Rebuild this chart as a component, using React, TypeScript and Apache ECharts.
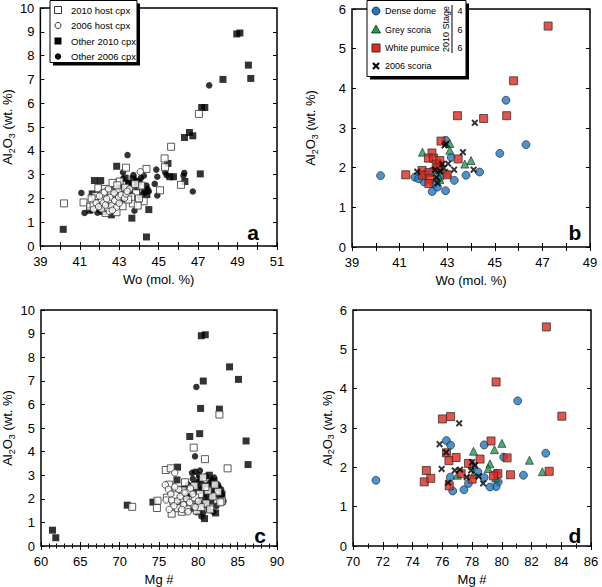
import React, { useEffect, useRef } from "react";
import * as echarts from "echarts";

// ---------- Data ----------
// Panel a: Wo (mol. %) vs Al2O3 (wt. %)
const aHost2010 = [[40.2,1.79],[47.04,5.55],[45.63,4.17],[45.3,3.68],[45.32,3.31],[44.38,3.24],[46.13,2.57],[45.07,2.34],[43.34,3.29],[43.02,2.71],[42.66,2.65],[41.19,1.83],[44.24,1.88],[43.69,1.79],[43.17,1.67],[42.86,1.42],[42.31,1.39],[41.94,2.43],[42.27,2.4],[41.53,1.65],[41.97,1.9],[44.1,2.54],[43.85,2.22],[42.97,2.29],[42.61,2.12],[43.6,2.05],[42.1,1.98],[43.94,1.7],[42.5,2.3],[43.3,2.45],[41.8,2.1],[42.8,1.85],[43.45,1.95],[41.7,1.75],[42.4,1.6],[43.8,2.6],[42.9,2.55],[44.0,2.0],[41.6,2.0],[42.2,2.2],[43.1,2.1]];
const aHost2006 = [[44.07,3.12],[42.19,1.81],[42.41,1.59],[42.61,1.7],[42.1,1.56],[42.77,1.91],[42.97,2.05],[42.52,2.05],[43.1,2.15],[42.36,1.98],[42.74,2.23],[43.27,2.01],[41.83,1.81],[42.24,2.26],[43.35,2.19],[42.86,1.63],[43.52,2.4],[41.7,1.55],[42.0,2.1],[42.5,1.45],[43.0,1.8],[42.3,1.72],[42.65,1.5],[41.95,1.65],[43.4,2.3],[42.45,2.4]];
const aOther2010 = [[40.16,0.7],[48.96,8.91],[49.12,8.95],[49.55,7.6],[49.67,7.04],[48.26,7.0],[47.18,5.82],[47.34,5.82],[46.31,4.56],[46.56,4.77],[46.73,4.63],[47.11,3.03],[46.33,2.71],[45.47,3.47],[45.56,2.91],[45.75,2.91],[44.38,0.38],[44.5,1.53],[43.64,1.17],[42.87,3.35],[41.74,2.75],[42.06,2.75],[41.63,2.19],[42.6,1.31],[44.4,2.16],[43.9,2.45],[43.1,2.44],[41.9,1.73],[43.3,2.85],[43.7,2.82],[44.0,2.7],[42.4,2.35],[43.5,2.6],[41.5,1.5],[42.9,1.9],[43.2,2.0],[42.2,1.45],[44.3,2.3]];
const aOther2006 = [[47.56,6.75],[46.73,2.29],[46.3,3.07],[46.26,2.96],[44.88,3.21],[44.93,2.91],[44.93,2.12],[44.8,2.61],[45.33,3.1],[45.4,2.98],[43.42,3.82],[41.08,2.23],[41.24,1.39],[43.77,1.48],[43.19,3.1],[43.19,2.82],[43.72,2.98],[44.1,2.86],[44.38,2.54],[44.43,2.4],[42.44,1.7],[42.94,1.91],[41.58,1.53],[41.9,1.4],[43.9,2.65],[44.2,2.2],[43.55,2.5],[42.7,2.15],[43.0,2.55],[43.6,2.25],[44.05,2.05],[43.85,2.75],[42.2,1.6],[41.75,1.85],[43.3,2.3],[42.6,2.35],[44.25,2.95],[43.45,2.65],[44.5,2.3],[42.0,1.5]];

// Panel c: Mg # vs Al2O3 (wt. %)
const cHost2010 = [[71.59,1.66],[82.68,5.57],[79.41,4.17],[80.84,3.68],[83.72,3.29],[75.86,3.22],[76.49,3.29],[74.81,1.92],[74.73,1.61],[76.61,1.37],[77.2,2.3],[76.3,2.6],[77.8,2.0],[78.5,1.75],[79.5,2.55],[80.2,2.2],[81.0,1.8],[82.5,2.3],[83.0,1.9],[78.9,2.35],[79.8,1.5],[77.4,1.6],[80.6,2.9],[81.8,2.1],[79.2,1.95],[78.0,2.35],[76.8,1.9],[77.9,1.45],[80.3,1.65],[82.1,2.6],[79.0,1.75],[78.3,2.7],[81.2,2.35],[76.0,2.05],[80.9,2.5],[82.8,1.85],[78.6,1.55],[77.1,2.15],[79.6,2.05],[81.5,1.55]];
const cHost2006 = [[77.0,3.1],[75.8,2.59],[76.2,2.4],[75.9,1.95],[76.5,2.2],[77.3,1.9],[77.7,2.1],[78.1,1.75],[78.5,2.0],[76.9,1.7],[77.5,2.4],[78.9,1.85],[79.3,2.2],[76.3,1.55],[77.9,1.55],[78.3,2.25],[79.6,1.65],[77.0,2.5],[76.6,1.95],[78.7,1.45],[80.0,1.9],[79.0,2.45]];
const cOther2010 = [[61.46,0.67],[61.88,0.35],[80.38,8.91],[80.88,8.95],[83.97,7.59],[85.1,7.06],[80.63,6.99],[80.29,5.83],[82.68,5.8],[78.91,4.64],[80.17,4.76],[86.07,4.45],[86.32,3.45],[77.36,3.34],[77.28,2.8],[70.96,1.73],[74.23,1.86],[80.79,1.16],[81.4,3.0],[80.5,2.35],[81.9,2.2],[79.6,2.6],[82.2,1.4],[78.4,2.1],[80.0,1.45],[81.2,2.55],[82.5,2.45],[79.8,1.9],[80.9,1.75],[83.0,2.2],[78.0,2.4],[81.6,1.9],[80.2,2.85],[82.0,2.75],[79.2,1.6],[77.5,1.9],[81.0,2.2]];
const cOther2006 = [[79.75,6.74],[79.58,3.8],[79.2,3.1],[79.6,3.15],[80.1,3.0],[79.9,2.7],[80.5,2.6],[81.0,2.95],[81.5,2.7],[82.0,2.9],[82.5,2.6],[83.0,2.2],[81.8,2.4],[80.8,2.05],[80.3,1.8],[81.3,1.55],[82.3,1.7],[79.5,2.3],[80.0,2.45],[78.5,1.5],[80.6,1.4],[81.9,1.45],[82.7,2.1],[79.3,2.85],[80.9,2.4],[81.6,2.15],[83.2,1.9],[78.9,2.1],[80.4,1.25],[82.1,2.5],[79.9,1.6],[81.1,1.9],[80.2,3.2],[78.7,2.6],[81.7,2.8],[82.9,2.4]];

// Panel b: Wo (mol. %) vs Al2O3 (wt. %)
const bDense = [[40.2,1.8],[45.47,3.7],[46.31,2.58],[45.21,2.36],[42.94,2.69],[43.17,2.26],[43.3,1.68],[43.79,1.81],[44.36,1.89],[42.93,1.42],[42.37,1.4],[42.43,1.6],[42.59,1.51],[42.03,1.64],[42.07,1.84],[41.64,1.76],[42.37,1.91],[42.7,1.75],[42.55,1.95],[41.8,1.72]];
const bGrey = [[41.96,2.39],[43.11,2.61],[43.11,2.44],[43.74,2.09],[44.0,2.18],[43.01,1.87],[42.69,2.14],[42.69,1.7],[42.61,1.82],[42.75,1.95]];
const bWhite = [[47.24,5.57],[45.79,4.19],[43.43,3.31],[44.53,3.24],[45.5,3.31],[41.26,1.82],[42.74,2.67],[42.36,2.37],[42.21,2.24],[42.43,2.24],[43.46,2.22],[42.54,2.09],[42.69,2.18],[41.94,1.93],[41.97,1.81],[42.24,1.88],[42.26,1.72],[42.23,1.6],[43.0,1.82],[42.6,2.0]];
const bScoria = [[44.16,3.13],[43.66,2.39],[44.11,1.95],[43.29,1.95],[43.04,2.1],[42.89,2.56],[41.74,1.9],[42.6,1.61],[42.86,1.99],[42.71,1.91],[42.49,1.95],[42.79,2.09],[42.95,2.6],[42.55,1.75]];

// Panel d: Mg # vs Al2O3 (wt. %)
const dDense = [[71.54,1.67],[81.07,3.69],[82.96,2.36],[76.28,2.68],[76.56,2.56],[78.82,2.57],[80.13,2.26],[81.46,1.8],[79.62,1.85],[79.76,1.63],[79.62,1.51],[79.21,1.5],[78.4,1.88],[78.82,1.74],[77.46,1.43],[76.7,1.4],[77.76,1.59],[76.54,1.75],[78.06,2.03]];
const dGrey = [[78.1,2.41],[80.01,2.61],[79.51,2.45],[81.86,2.18],[82.73,1.89],[79.21,2.09],[79.09,1.97],[78.1,1.82],[77.02,1.8],[79.6,1.73]];
const dWhite = [[83.0,5.57],[79.62,4.17],[84.04,3.3],[76.01,3.23],[76.56,3.29],[76.28,2.37],[76.45,2.17],[76.93,2.25],[79.28,2.67],[77.76,2.1],[78.54,2.21],[80.36,2.24],[80.59,1.81],[83.19,1.9],[74.93,1.92],[74.79,1.63],[75.23,1.72],[76.47,1.53],[77.27,1.84],[79.74,1.84],[78.01,1.7],[79.45,1.78]];
const dScoria = [[77.14,3.12],[75.82,2.59],[76.26,2.38],[75.96,1.96],[76.84,1.92],[77.2,1.94],[77.94,1.92],[78.01,2.13],[77.64,1.75],[78.75,1.59],[76.4,1.61],[78.45,1.77],[78.2,2.05]];

const legendA = ["2010 host cpx", "2006 host cpx", "Other 2010 cpx", "Other 2006 cpx"];
const legendB = ["Dense dome", "Grey scoria", "White pumice", "2006 scoria"];
const stageLabels = ["4", "6", "6"];
const panelLetters = ["a", "b", "c", "d"];

const FONT = "Liberation Sans, Arial, Helvetica, sans-serif";
const BLUE = "#1f78c0";
const GREEN = "#1c9c52";
const RED = "#e0281e";
const XPATH = "path://M2,0L5,3L8,0L10,2L7,5L10,8L8,10L5,7L2,10L0,8L3,5L0,2Z";

const alName = "{n|Al}{s|2}{n|O}{s|3}{n| (wt. %)}";
const alRich = {
  n: { fontSize: 13, fontFamily: FONT, color: "#000", lineHeight: 17, verticalAlign: "middle" },
  s: { fontSize: 9, fontFamily: FONT, color: "#000", lineHeight: 17, verticalAlign: "bottom" },
};

type AxisCfg = {
  min: number; max: number; interval: number; minor?: number;
  oddOnly?: boolean; name: string; nameGap: number; rich?: any;
};

function xAxes(grid: number, c: AxisCfg) {
  const common = {
    type: "value", gridIndex: grid, min: c.min, max: c.max, interval: c.interval,
    axisLine: { show: false },
    axisTick: { show: true, inside: true, length: 4, lineStyle: { color: "#000", width: 1 } },
    minorTick: { show: !!c.minor, splitNumber: c.minor || 5, length: 2.5, lineStyle: { color: "#000", width: 1 } },
    splitLine: { show: false },
    minorSplitLine: { show: false },
  };
  return [
    {
      ...common, position: "bottom",
      axisLabel: {
        color: "#000", fontSize: 13, fontFamily: FONT, margin: 9,
        formatter: (v: number) => (c.oddOnly ? (Math.round(v) % 2 === 1 ? String(v) : "") : String(v)),
      },
      name: c.name, nameLocation: "middle", nameGap: c.nameGap,
      nameTextStyle: { color: "#000", fontSize: 13, fontFamily: FONT },
    },
    { ...common, position: "top", axisLabel: { show: false } },
  ];
}

function yAxes(grid: number, c: AxisCfg) {
  const common = {
    type: "value", gridIndex: grid, min: c.min, max: c.max, interval: c.interval,
    axisLine: { show: false },
    axisTick: { show: true, inside: true, length: 4, lineStyle: { color: "#000", width: 1 } },
    splitLine: { show: false },
  };
  return [
    {
      ...common, position: "left",
      axisLabel: { color: "#000", fontSize: 13, fontFamily: FONT, margin: 6 },
      name: c.name, nameLocation: "middle", nameGap: c.nameGap,
      nameTextStyle: { color: "#000", fontSize: 13, fontFamily: FONT, rich: c.rich },
    },
    { ...common, position: "right", axisLabel: { show: false } },
  ];
}

function sc(name: string, axis: number, data: number[][], symbol: string, size: number, itemStyle: any) {
  return {
    type: "scatter", name, xAxisIndex: axis, yAxisIndex: axis, data,
    symbol, symbolSize: size, itemStyle, silent: true,
  };
}

const openStyle = { color: "#fff", borderColor: "#333", borderWidth: 1 };
const blackStyle = { color: "#000" };
const blueStyle = { color: BLUE, borderColor: "#222", borderWidth: 0.8 };
const greenStyle = { color: GREEN, borderColor: "#222", borderWidth: 0.8 };
const redStyle = { color: RED, borderColor: "#333", borderWidth: 1 };

function buildOption() {
  const grids = [
    { left: 37, top: 8, width: 240, height: 238 },
    { left: 352, top: 9, width: 238, height: 238 },
    { left: 37, top: 310, width: 240, height: 238 },
    { left: 353, top: 310, width: 238, height: 238 },
  ].map((g) => ({ ...g, show: true, borderColor: "#000", borderWidth: 1.5, backgroundColor: "transparent" }));

  const xAxis = [
    ...xAxes(0, { min: 39, max: 51, interval: 1, oddOnly: true, name: "Wo (mol. %)", nameGap: 27 }),
    ...xAxes(1, { min: 39, max: 49, interval: 1, oddOnly: true, name: "Wo (mol. %)", nameGap: 27 }),
    ...xAxes(2, { min: 60, max: 90, interval: 5, minor: 5, name: "Mg #", nameGap: 27 }),
    ...xAxes(3, { min: 70, max: 86, interval: 2, minor: 2, name: "Mg #", nameGap: 27 }),
  ];
  const yAxis = [
    ...yAxes(0, { min: 0, max: 10, interval: 1, name: alName, nameGap: 24, rich: alRich }),
    ...yAxes(1, { min: 0, max: 6, interval: 1, name: alName, nameGap: 33, rich: alRich }),
    ...yAxes(2, { min: 0, max: 10, interval: 1, name: alName, nameGap: 25, rich: alRich }),
    ...yAxes(3, { min: 0, max: 6, interval: 1, name: alName, nameGap: 14, rich: alRich }),
  ];
  const series = [
    sc(legendA[2], 0, aOther2010, "rect", 7, blackStyle),
    sc(legendA[3], 0, aOther2006, "circle", 6.5, blackStyle),
    sc(legendA[0], 0, aHost2010, "rect", 7, openStyle),
    sc(legendA[1], 0, aHost2006, "circle", 6.5, openStyle),
    sc(legendA[2], 4, cOther2010, "rect", 7, blackStyle),
    sc(legendA[3], 4, cOther2006, "circle", 6.5, blackStyle),
    sc(legendA[0], 4, cHost2010, "rect", 7, openStyle),
    sc(legendA[1], 4, cHost2006, "circle", 6.5, openStyle),
    sc(legendB[0], 2, bDense, "circle", 8, blueStyle),
    sc(legendB[1], 2, bGrey, "triangle", 8, greenStyle),
    sc(legendB[2], 2, bWhite, "rect", 8, redStyle),
    sc(legendB[3], 2, bScoria, XPATH, 7, blackStyle),
    sc(legendB[0], 6, dDense, "circle", 8, blueStyle),
    sc(legendB[1], 6, dGrey, "triangle", 8, greenStyle),
    sc(legendB[2], 6, dWhite, "rect", 8, redStyle),
    sc(legendB[3], 6, dScoria, XPATH, 7, blackStyle),
  ];

  const txt = (x: number, y: number, text: string, size: number, extra: any = {}) => ({
    type: "text", x, y, z: 10,
    style: { text, fill: "#000", font: `${size}px ${FONT}`, textVerticalAlign: "middle", verticalAlign: "middle", ...extra },
  });

  const rowsA = [10, 25.5, 41, 56.5];
  const rowsB = [11, 29.5, 48, 66];
  const mxA = 58;
  const mxB = 376;

  const graphic: any[] = [
    // legend a
    { type: "rect", z: 9, shape: { x: 53, y: 3.5, width: 87, height: 62 }, style: { fill: "#000" } },
    { type: "rect", z: 9, shape: { x: 50, y: 0.5, width: 87, height: 62 }, style: { fill: "#fff", stroke: "#000", lineWidth: 1 } },
    { type: "rect", z: 10, shape: { x: mxA - 3.5, y: rowsA[0] - 3.5, width: 7, height: 7 }, style: { fill: "#fff", stroke: "#333", lineWidth: 1 } },
    { type: "circle", z: 10, shape: { cx: mxA, cy: rowsA[1], r: 3 }, style: { fill: "#fff", stroke: "#333", lineWidth: 1 } },
    { type: "rect", z: 10, shape: { x: mxA - 3.5, y: rowsA[2] - 3.5, width: 7, height: 7 }, style: { fill: "#000" } },
    { type: "circle", z: 10, shape: { cx: mxA, cy: rowsA[3], r: 3.2 }, style: { fill: "#000" } },
    ...legendA.map((t, i) => txt(71, rowsA[i], t, 9.5)),
    // legend b
    { type: "rect", z: 9, shape: { x: 370, y: 3.5, width: 99, height: 76 }, style: { fill: "#000" } },
    { type: "rect", z: 9, shape: { x: 367, y: 0.5, width: 99, height: 76 }, style: { fill: "#fff", stroke: "#000", lineWidth: 1 } },
    { type: "circle", z: 10, shape: { cx: mxB, cy: rowsB[0], r: 4 }, style: { fill: BLUE, stroke: "#222", lineWidth: 0.8 } },
    { type: "polygon", z: 10, shape: { points: [[mxB, rowsB[1] - 4.5], [mxB + 4.5, rowsB[1] + 3.5], [mxB - 4.5, rowsB[1] + 3.5]] }, style: { fill: GREEN, stroke: "#222", lineWidth: 0.8 } },
    { type: "rect", z: 10, shape: { x: mxB - 4, y: rowsB[2] - 4, width: 8, height: 8 }, style: { fill: RED, stroke: "#333", lineWidth: 1 } },
    { type: "line", z: 10, shape: { x1: mxB - 3, y1: rowsB[3] - 3, x2: mxB + 3, y2: rowsB[3] + 3 }, style: { stroke: "#000", lineWidth: 2.2 } },
    { type: "line", z: 10, shape: { x1: mxB + 3, y1: rowsB[3] - 3, x2: mxB - 3, y2: rowsB[3] + 3 }, style: { stroke: "#000", lineWidth: 2.2 } },
    ...legendB.map((t, i) => txt(385, rowsB[i], t, 9)),
    {
      type: "text", z: 10, x: 446, y: 29, rotation: Math.PI / 2,
      style: { text: "2010 Stage", fill: "#000", font: `9px ${FONT}`, align: "center", verticalAlign: "middle", textAlign: "center", textVerticalAlign: "middle" },
    },
    { type: "line", z: 10, shape: { x1: 452, y1: 5, x2: 452, y2: 53 }, style: { stroke: "#000", lineWidth: 1 } },
    ...stageLabels.map((t, i) => txt(460, rowsB[i], t, 9, { align: "center", textAlign: "center" })),
    // panel letters
    ...[[253, 232], [575, 232], [260, 535], [575, 535]].map((p, i) => ({
      type: "text", z: 10, x: p[0], y: p[1],
      style: { text: panelLetters[i], fill: "#000", font: `bold 21px ${FONT}`, align: "center", verticalAlign: "middle", textAlign: "center", textVerticalAlign: "middle" },
    })),
  ];

  return {
    animation: false,
    backgroundColor: "#fff",
    textStyle: { fontFamily: FONT },
    grid: grids,
    xAxis,
    yAxis,
    series,
    graphic,
  };
}

export default function App() {
  const ref = useRef<HTMLDivElement>(null);
  useEffect(() => {
    document.body.style.margin = "0";
    if (!ref.current) return;
    const chart = echarts.init(ref.current, undefined, { renderer: "svg" });
    chart.setOption(buildOption() as any);
    return () => chart.dispose();
  }, []);
  return <div ref={ref} style={{ width: 602, height: 587 }} />;
}
